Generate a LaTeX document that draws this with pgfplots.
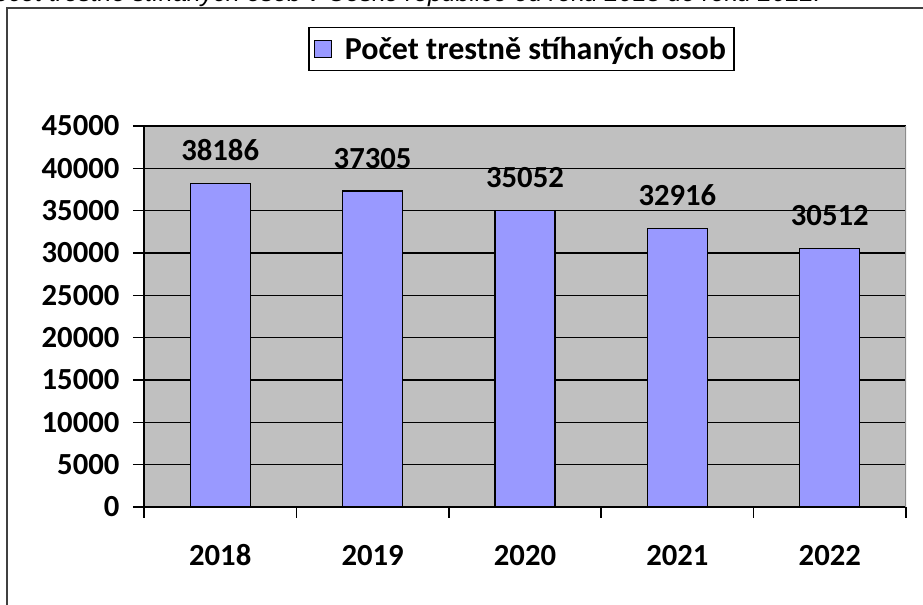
\documentclass[border=0pt]{standalone}
\usepackage{pgfplots}
\pgfplotsset{compat=1.18}
\usepackage{fontspec}
\setmainfont{Carlito}
\newfontfamily\capfont{Liberation Sans}
\definecolor{barcol}{RGB}{153,153,255}
\definecolor{bgcol}{RGB}{192,192,192}
\begin{document}
\begin{tikzpicture}
\useasboundingbox (0,0) rectangle (692.25pt,453.75pt);
\clip (0,0) rectangle (692.25pt,453.75pt);
% caption (cut off at the top)
\node[anchor=base east, inner sep=0pt, font=\capfont\itshape\fontsize{18.8}{22}\selectfont] at (616pt,452.5pt) {Počet trestně stíhaných osob v České republice od roku 2018 do roku 2022.};
% outer frame
\draw[line width=1pt, black!75] (5.25pt,-10pt) -- (5.25pt,447.75pt) -- (700pt,447.75pt);
\begin{axis}[
  at={(108pt,73.5pt)}, anchor=south west,
  scale only axis, width=571.5pt, height=285.75pt,
  ybar, bar width=45pt,
  xmin=-0.5, xmax=4.5, ymin=0, ymax=45000,
  ytick={0,5000,...,45000},
  scaled ticks=false,
  xtick={0,1,2,3,4},
  xticklabels={2018,2019,2020,2021,2022},
  minor xtick={-0.5,0.5,1.5,2.5,3.5,4.5},
  axis x line*=bottom, axis y line*=left,
  axis line style={line width=1.1pt, black, -},
  axis background/.style={fill=bgcol},
  ymajorgrids, grid style={line width=1.1pt, black},
  tick align=outside,
  major tick length=8.25pt,
  x tick style={draw=none},
  minor x tick style={draw=black, line width=1.1pt},
  minor tick length=8pt,
  y tick style={line width=1.1pt, black},
  /pgf/number format/assume math mode=true,
  /pgf/number format/1000 sep={},
  tick label style={font=\bfseries\fontsize{23}{27}\selectfont},
  yticklabel style={inner sep=0pt, xshift=-10pt},
  xticklabel style={inner sep=0pt, anchor=base, text height=15pt, text depth=0pt, yshift=-35.5pt},
  nodes near coords,
  nodes near coords style={font=\bfseries\fontsize{23}{27}\selectfont, inner sep=0pt, anchor=south, yshift=16.5pt, /pgf/number format/1000 sep={}, /pgf/number format/assume math mode=true},
  legend style={at={(0.4954,1.202)}, anchor=center, draw=black, line width=1.1pt, font=\bfseries\fontsize{24}{28}\selectfont, inner xsep=4pt, inner ysep=4pt, nodes={inner xsep=2pt, inner ysep=3pt}},
  legend image code/.code={\draw[fill=barcol, draw=black, line width=0.8pt] (0pt,-6.4pt) rectangle (12.75pt,6.35pt); \path (20pt,0pt);},
]
\addplot[fill=barcol, draw=black, line width=1pt] coordinates {(0,38186) (1,37305) (2,35052) (3,32916) (4,30512)};
\addlegendentry{Počet trestně stíhaných osob}
\draw[line width=1pt, black!45] (rel axis cs:1,0) -- (rel axis cs:1,1);
\end{axis}
\end{tikzpicture}
\end{document}
